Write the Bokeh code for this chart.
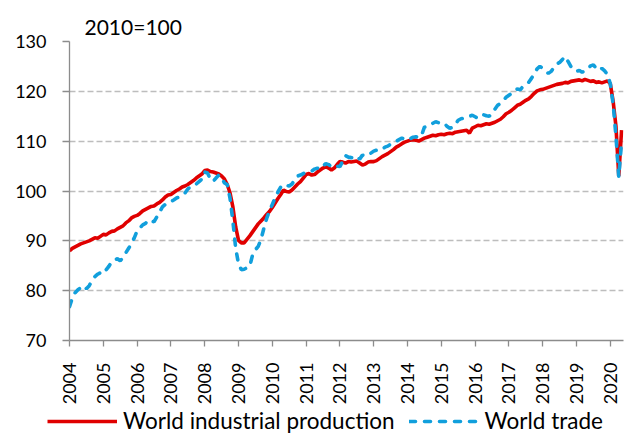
import math
from bokeh.plotting import figure
from bokeh.layouts import column
from bokeh.models import (Range1d, FixedTicker, Legend, LegendItem)
from bokeh.embed import file_html
from bokeh.resources import INLINE

# ---- data (monthly, Jan 2004 - May 2020), 2010=100 ----
start_year = 2004
industrial_production = [
    # 2004
    88.0, 88.5, 88.8, 89.1, 89.4, 89.6, 89.8, 90.0, 90.3, 90.6, 90.5, 90.9,
    # 2005
    91.3, 91.2, 91.6, 91.9, 92.0, 92.4, 92.7, 93.0, 93.6, 94.0, 94.6, 94.9,
    # 2006
    95.1, 95.5, 96.0, 96.3, 96.6, 96.9, 97.0, 97.4, 97.7, 98.2, 98.8, 99.2,
    # 2007
    99.3, 99.7, 100.1, 100.4, 100.8, 101.0, 101.3, 101.7, 102.1, 102.6, 103.0, 103.4,
    # 2008
    104.1, 104.2, 103.9, 103.8, 103.6, 103.4, 103.0, 102.4, 101.3, 99.6, 96.8, 92.8,
    # 2009
    90.1, 89.6, 89.6, 90.3, 91.0, 91.8, 92.6, 93.4, 94.0, 94.6, 95.3, 95.9,
    # 2010
    96.7, 97.6, 98.5, 99.3, 100.2, 99.9, 99.8, 100.2, 100.8, 101.4, 101.9, 102.6,
    # 2011
    103.3, 103.5, 103.2, 103.3, 103.8, 104.2, 104.6, 104.9, 104.6, 104.2, 104.6, 105.3,
    # 2012
    105.9, 105.8, 105.6, 105.9, 105.8, 105.9, 106.0, 105.6, 105.2, 105.4, 105.8, 105.9,
    # 2013
    105.9, 106.1, 106.5, 106.9, 107.2, 107.5, 107.9, 108.3, 108.8, 109.1, 109.5, 109.8,
    # 2014
    110.0, 110.2, 110.3, 110.2, 110.0, 110.3, 110.6, 110.8, 111.0, 111.2, 111.1, 111.3,
    # 2015
    111.4, 111.3, 111.5, 111.6, 111.5, 111.8, 111.9, 112.0, 112.1, 112.2, 111.6, 112.6,
    # 2016
    112.9, 113.2, 113.1, 113.3, 113.5, 113.4, 113.6, 113.8, 114.1, 114.4, 114.9, 115.5,
    # 2017
    115.8, 116.2, 116.7, 117.2, 117.4, 117.8, 118.2, 118.5, 119.0, 119.6, 120.1, 120.3,
    # 2018
    120.4, 120.6, 120.8, 121.0, 121.2, 121.4, 121.5, 121.6, 121.8, 121.7, 122.0, 122.1,
    # 2019
    122.2, 122.3, 122.1, 122.4, 122.2, 122.0, 122.1, 121.8, 121.9, 121.7, 121.9, 122.1,
    # 2020
    121.5, 118.0, 113.0, 103.0, 112.2,
]
world_trade = [
    # 2004
    76.8, 78.5, 79.6, 80.2, 80.6, 81.0, 80.4, 81.0, 82.0, 82.8, 83.3, 83.6,
    # 2005
    83.4, 84.2, 84.9, 85.8, 86.2, 86.4, 86.0, 86.6, 87.6, 88.5, 89.5, 90.6,
    # 2006
    92.0, 92.6, 93.2, 93.5, 94.2, 94.0, 93.8, 94.8, 95.8, 96.8, 97.3, 97.6,
    # 2007
    97.9, 98.2, 98.6, 98.8, 99.2, 99.6, 100.4, 100.9, 101.0, 101.4, 101.9, 102.4,
    # 2008
    103.8, 103.6, 102.4, 101.9, 102.6, 103.2, 102.8, 101.6, 101.3, 98.5, 94.0, 88.5,
    # 2009
    85.4, 84.2, 84.3, 84.6, 84.9, 87.2, 88.2, 88.9, 90.3, 92.5, 94.5, 96.0,
    # 2010
    97.3, 98.6, 99.8, 100.8, 101.3, 101.1, 101.0, 101.4, 102.3, 103.0, 103.2, 103.5,
    # 2011
    103.8, 103.9, 104.0, 104.4, 104.6, 104.4, 105.0, 105.5, 105.3, 104.9, 104.7, 105.0,
    # 2012
    104.9, 106.0, 107.1, 106.8, 106.7, 106.5, 106.9, 106.4, 107.2, 107.0, 107.3, 107.6,
    # 2013
    108.0, 108.2, 108.1, 108.4, 108.8, 109.0, 109.4, 109.6, 110.0, 110.3, 110.6, 110.4,
    # 2014
    110.2, 110.5, 110.8, 110.9, 110.7, 111.2, 112.8, 113.0, 113.2, 113.6, 113.9, 113.7,
    # 2015
    113.5, 113.6, 113.0, 112.6, 112.8, 113.4, 114.2, 114.5, 114.6, 114.8, 115.0, 115.2,
    # 2016
    114.9, 114.6, 114.8, 115.3, 115.1, 115.0, 115.5, 116.4, 117.2, 117.6, 118.2, 118.8,
    # 2017
    119.2, 119.6, 119.9, 120.5, 120.3, 121.0, 121.3, 121.8, 122.6, 123.5, 124.5, 125.0,
    # 2018
    124.6, 124.0, 123.6, 124.0, 124.8, 125.5, 125.8, 126.4, 127.0, 126.0, 125.0, 124.4,
    # 2019
    124.0, 124.2, 123.8, 124.2, 124.6, 125.1, 125.3, 124.6, 124.2, 124.6, 124.1, 123.4,
    # 2020
    121.5, 117.5, 111.0, 102.8, 110.0,
]
tick_years = list(range(2004, 2021))
tick_labels = [str(y) for y in tick_years]
y_ticks = [70, 80, 90, 100, 110, 120, 130]
series_names = ["World industrial production", "World trade"]
unit_label = "2010=100"

# x position of each month from its index
x = [start_year + i / 12 for i in range(len(industrial_production))]

FONT = "Lato"
RED = "#e00000"
BLUE = "#119fdc"
IP_STYLE = dict(line_color=RED, line_width=3.6)
TR_STYLE = dict(line_color=BLUE, line_width=3.6, line_dash="6 9", line_cap="round")

# ---------------- main chart ----------------
p = figure(width=624, height=407, output_backend="svg",
           toolbar_location=None,
           x_range=Range1d(2004, 2020.39), y_range=Range1d(70, 130),
           min_border_left=69, min_border_right=1, min_border_top=41,
           min_border_bottom=65)
p.frame_align = False
p.outline_line_color = None
p.background_fill_color = "white"
p.border_fill_color = "white"

p.title.text = unit_label
p.title.text_font = FONT
p.title.text_font_size = "21px"
p.title.text_font_style = "normal"
p.title.text_color = "#000000"
p.title.align = "left"
p.title.offset = 15
p.title.standoff = 5

p.xgrid.grid_line_color = None
p.ygrid.grid_line_color = "#bdbdbd"
p.ygrid.grid_line_dash = "6 3"
p.ygrid.grid_line_width = 1.3
p.ygrid.ticker = FixedTicker(ticks=y_ticks)

for ax in (p.xaxis[0], p.yaxis[0]):
    ax.axis_line_color = "#8c8c8c"
    ax.axis_line_width = 1.3
    ax.major_tick_line_color = "#8c8c8c"
    ax.major_tick_line_width = 1.3
    ax.minor_tick_line_color = None
    ax.major_tick_in = 0
    ax.major_tick_out = 6
    ax.major_label_text_font = FONT
    ax.major_label_text_font_size = "18px"
    ax.major_label_text_color = "#000000"

p.yaxis[0].ticker = FixedTicker(ticks=y_ticks)
p.yaxis[0].major_label_standoff = 16
p.yaxis[0].major_tick_out = 7
p.xaxis[0].ticker = FixedTicker(ticks=tick_years)
p.xaxis[0].major_label_overrides = {y: l for y, l in zip(tick_years, tick_labels)}
p.xaxis[0].major_label_orientation = math.pi / 2
p.xaxis[0].major_label_standoff = 16

p.line(x, industrial_production, **IP_STYLE)
p.line(x, world_trade, **TR_STYLE)

# ---------------- legend strip ----------------
p2 = figure(width=624, height=27, output_backend="svg", toolbar_location=None,
            x_axis_type=None, y_axis_type=None,
            x_range=Range1d(0, 1), y_range=Range1d(0, 1),
            min_border_left=0, min_border_right=0, min_border_top=0,
            min_border_bottom=0)
p2.frame_align = False
p2.outline_line_color = None
p2.grid.visible = False
# same series, outside the strip's visible range: only their legend keys show
l_ip = p2.line(x, industrial_production, **IP_STYLE)
l_tr = p2.line(x, world_trade, **TR_STYLE)

legend = Legend(items=[LegendItem(label=series_names[0], renderers=[l_ip]),
                       LegendItem(label=series_names[1], renderers=[l_tr])],
                orientation="horizontal", location=(47, 0),
                glyph_width=70, glyph_height=20, label_standoff=6, spacing=14,
                padding=0, margin=0, border_line_color=None,
                background_fill_alpha=0,
                label_text_font=FONT, label_text_font_size="22.5px",
                label_text_color="#000000")
p2.add_layout(legend, "center")

layout = column(p, p2, spacing=0)
open("out.html", "w").write(file_html(layout, INLINE))
